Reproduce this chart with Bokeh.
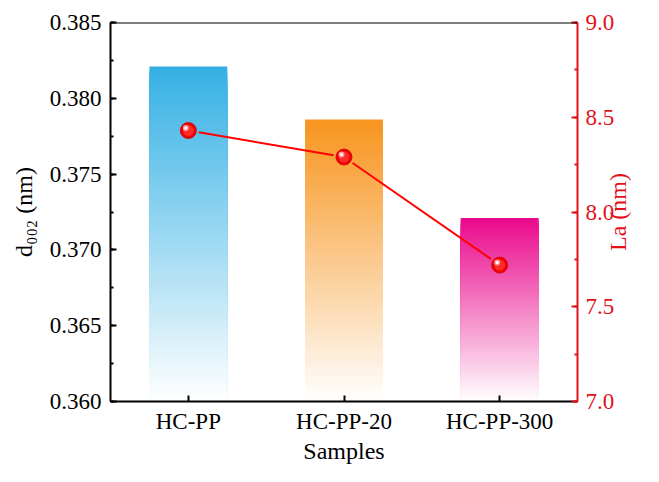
import numpy as np
from bokeh.plotting import figure
from bokeh.models import (Range1d, LinearAxis, SingleIntervalTicker, FixedTicker,
                          NumeralTickFormatter, Span, Label, ColumnDataSource)
from bokeh.embed import file_html
from bokeh.resources import INLINE

# ---- data ----
samples = ["HC-PP", "HC-PP-20", "HC-PP-300"]
d002 = [0.3821, 0.3786, 0.3721]
la = [8.43, 8.29, 7.72]
bar_colors = [(52, 176, 228), (247, 148, 29), (234, 8, 140)]

FONT = "Liberation Serif"
RED = "#E3101A"

W, H = 643, 466
L, R, T, B = 110, 58, 22, 64
# approximate frame size after the axes have taken their room
frame_w = W - L - 66
frame_h = H - T - 65

y0, y1 = 0.360, 0.385
r0, r1 = 7.0, 9.0
x0, x1 = -0.5, len(samples) - 0.5

p = figure(width=W, height=H, output_backend="svg", toolbar_location=None,
           x_range=Range1d(x0, x1), y_range=Range1d(y0, y1),
           min_border_left=L, min_border_right=R, min_border_top=T, min_border_bottom=B)
p.extra_y_ranges = {"la": Range1d(r0, r1)}
p.outline_line_color = None
p.grid.visible = False
p.background_fill_color = "white"
p.border_fill_color = "white"

# ---- gradient bars ----
N = 90
xs = np.arange(len(samples))
bw = 0.5
lefts, rights, tops, bottoms, cols = [], [], [], [], []
for i, (v, c) in enumerate(zip(d002, bar_colors)):
    for k in range(N):
        t = k / N
        top = v - (v - y0) * t
        w = min(1.0, t + 0.5 / N)
        rgb = tuple(int(round(ch + (255 - ch) * w)) for ch in c)
        lefts.append(xs[i] - bw / 2)
        rights.append(xs[i] + bw / 2)
        tops.append(top)
        bottoms.append(y0)
        cols.append("#%02x%02x%02x" % rgb)
src = ColumnDataSource(dict(left=lefts, right=rights, top=tops, bottom=bottoms, color=cols))
p.quad(left="left", right="right", top="top", bottom="bottom", fill_color="color",
       line_color=None, source=src)

# ---- La line (with small gaps at the spheres) ----
px_x = frame_w / (x1 - x0)
px_y = frame_h / (r1 - r0)
gap = 10.5
sx0, sy0, sx1, sy1 = [], [], [], []
for i in range(len(xs) - 1):
    ax_, ay_ = xs[i] * px_x, la[i] * px_y
    bx_, by_ = xs[i + 1] * px_x, la[i + 1] * px_y
    d = np.hypot(bx_ - ax_, by_ - ay_)
    ux, uy = (bx_ - ax_) / d, (by_ - ay_) / d
    sx0.append((ax_ + ux * gap) / px_x)
    sy0.append((ay_ + uy * gap) / px_y)
    sx1.append((bx_ - ux * gap) / px_x)
    sy1.append((by_ - uy * gap) / px_y)
p.segment(sx0, sy0, sx1, sy1, y_range_name="la", line_color="#FF0000", line_width=2)

p.scatter(xs, la, y_range_name="la", size=16, fill_color="#F00000", line_color="#D00000", line_width=0.8)
p.scatter(xs, la, y_range_name="la", size=11, fill_color="#FF2A2A", line_color=None)
dx = -2.5 / px_x
dy = 2.5 / px_y
p.scatter(xs + dx, np.array(la) + dy, y_range_name="la", size=6, fill_color="#FF9A9A", line_color=None)
p.scatter(xs + dx, np.array(la) + dy, y_range_name="la", size=3, fill_color="#FFFFFF", line_color=None)

# ---- top spine ----
p.add_layout(Span(location=y1, dimension="width", line_color="black", line_width=2))

# ---- axes ----
xa = p.xaxis[0]
xa.ticker = FixedTicker(ticks=list(xs))
xa.major_label_overrides = {int(i): s for i, s in enumerate(samples)}
xa.axis_label = "Samples"

ya = p.yaxis[0]
ya.ticker = SingleIntervalTicker(interval=0.005, num_minor_ticks=2)
ya.formatter = NumeralTickFormatter(format="0.000")
ya.axis_label = "d\u2080\u2080\u2082 (nm)"

ra = LinearAxis(y_range_name="la", ticker=SingleIntervalTicker(interval=0.5, num_minor_ticks=2),
                formatter=NumeralTickFormatter(format="0.0"))
p.add_layout(ra, "right")

for ax in (xa, ya, ra):
    ax.axis_line_width = 2
    ax.major_tick_line_width = 2
    ax.minor_tick_line_width = 2
    ax.major_tick_in = 6
    ax.major_tick_out = 0
    ax.minor_tick_in = 3
    ax.minor_tick_out = 0
    ax.major_label_text_font = FONT
    ax.major_label_text_font_size = "23px"
    ax.axis_label_text_font = FONT
    ax.axis_label_text_font_size = "24px"
    ax.axis_label_text_font_style = "normal"
    ax.axis_line_color = "black"
    ax.major_tick_line_color = "black"
    ax.minor_tick_line_color = "black"
    ax.major_label_text_color = "black"
    ax.axis_label_text_color = "black"
xa.minor_tick_line_color = None
xa.major_label_standoff = 7
xa.axis_label_standoff = 1
ya.major_label_standoff = 9
ya.axis_label_standoff = 10
ra.major_label_standoff = 8
for attr in ("axis_line_color", "major_tick_line_color", "minor_tick_line_color", "major_label_text_color"):
    setattr(ra, attr, RED)

# ---- right axis title (reads bottom-to-top, as in the reference) ----
p.add_layout(Label(x=0, y=(H - T - 65) / 2, x_units="screen", y_units="screen", text="La (nm)",
                   angle=np.pi / 2, text_font=FONT, text_font_size="24px", text_color=RED,
                   text_align="center", text_baseline="alphabetic"), "right")

open("out.html", "w").write(file_html(p, INLINE))
